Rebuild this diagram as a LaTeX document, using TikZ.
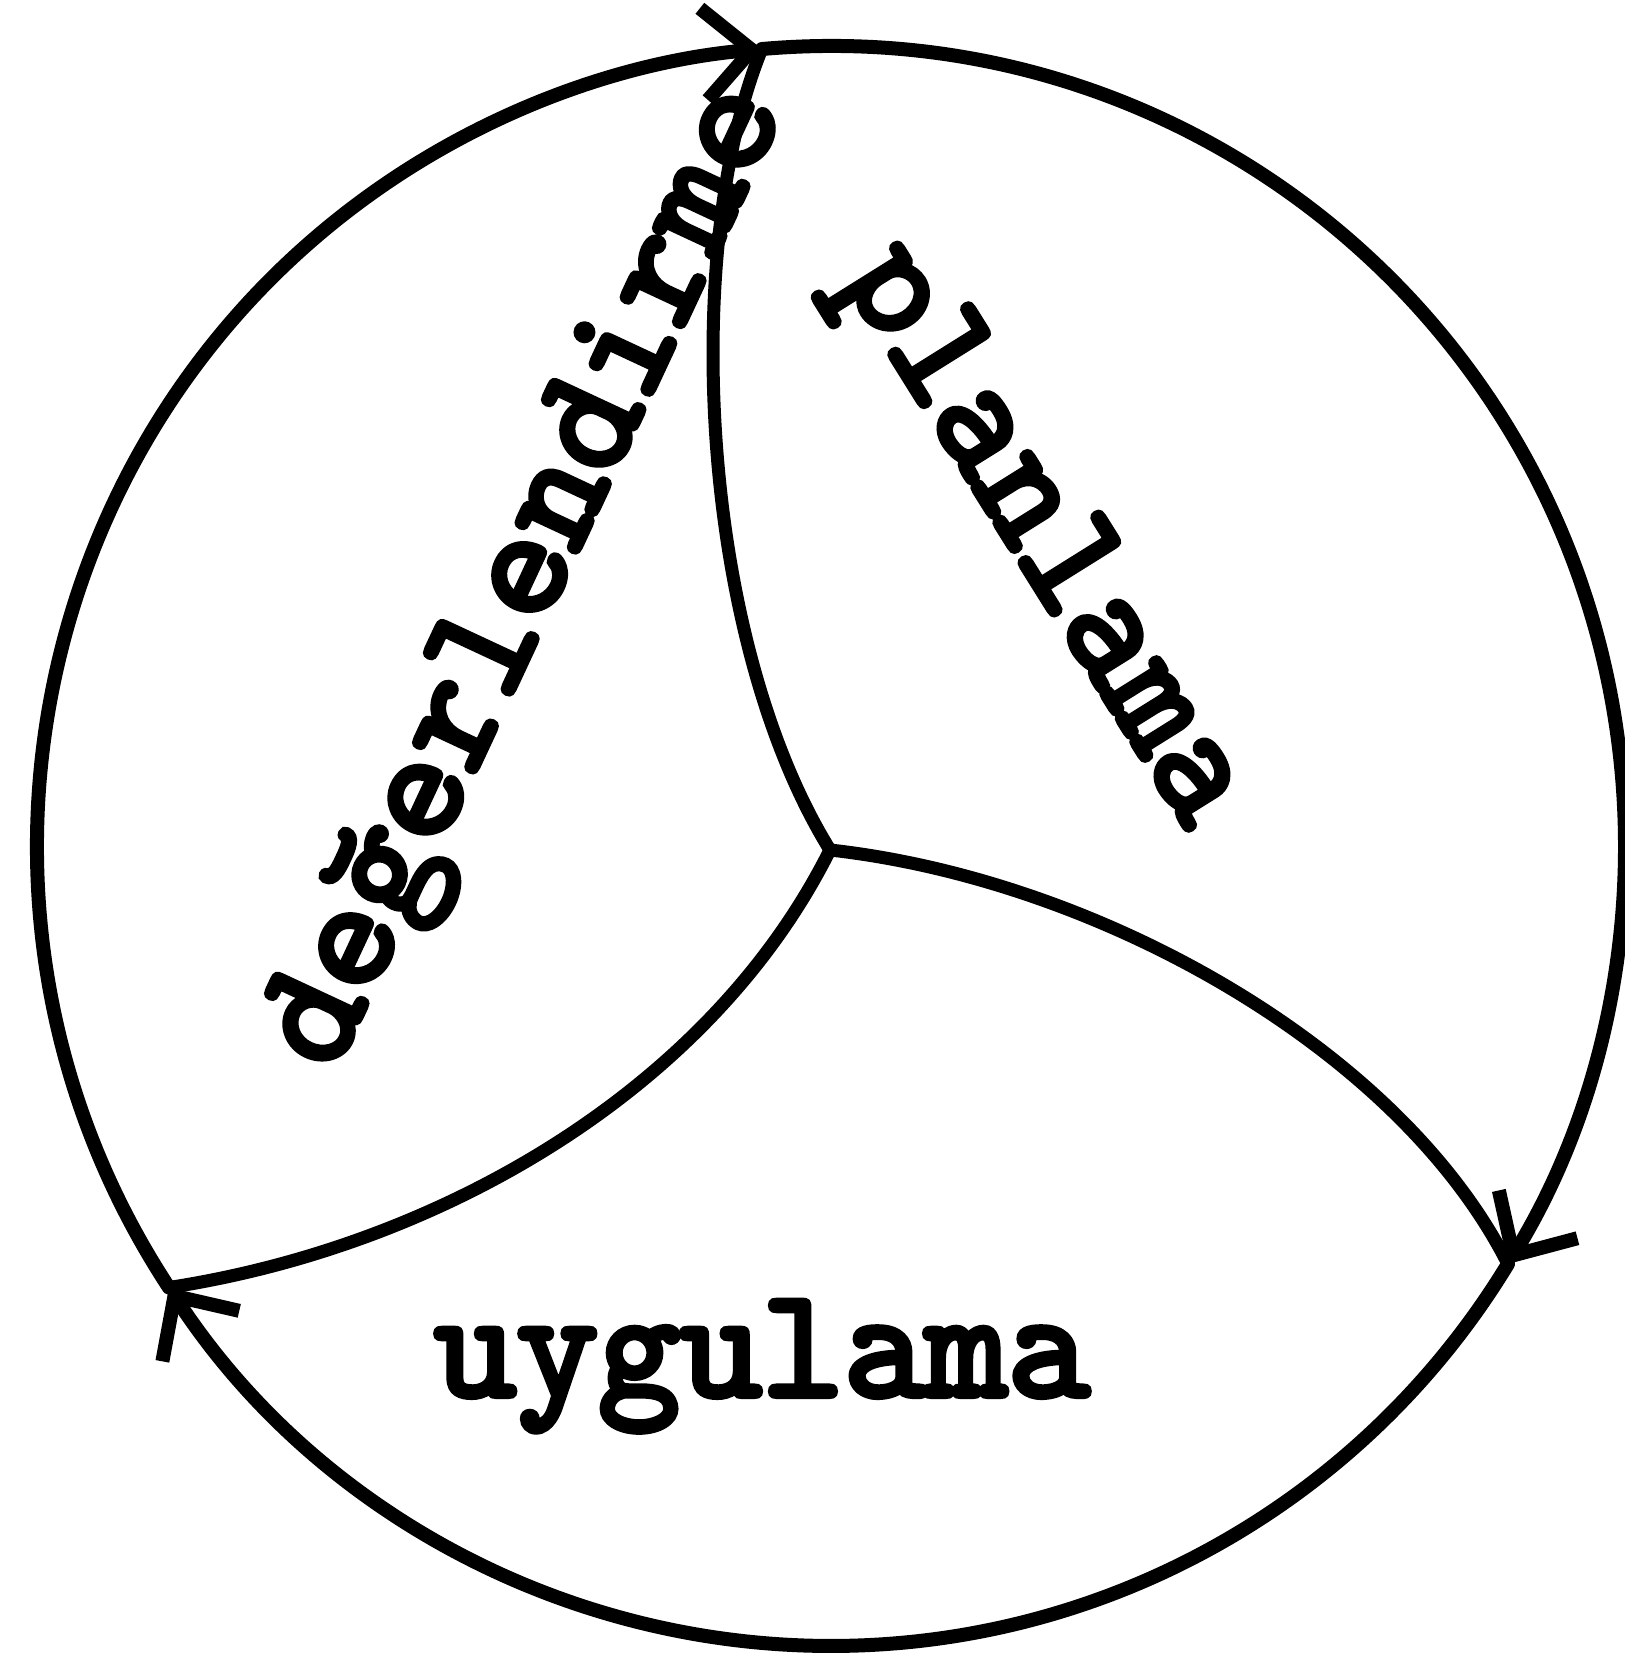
\documentclass[tikz,border=0pt]{standalone}
\usepackage{fontspec}
\newfontfamily\tw{lmmono10-regular.otf}[FakeBold=4]
\usetikzlibrary{arrows.meta,calc}
\begin{document}
\begin{tikzpicture}[x=1pt,y=1pt,
  ring/.style={line width=14pt,line cap=round,-{Straight Barb[length=48pt,width=92pt]}},
  link/.style={line width=13pt,line cap=round},
  lbl/.style={font=\fontsize{156}{160}\selectfont\tw,inner sep=0pt}]
\useasboundingbox (0,0) rectangle (1625,1666);
\coordinate (O) at (831,820);
\coordinate (J) at (830,816);
\coordinate (T) at ($(O)+(95:794 and 800)$);
\coordinate (R) at ($(O)+(-31.5:794 and 800)$);
\coordinate (L) at ($(O)+(213.5:794 and 800)$);
% circle arcs, clockwise, with arrow tips at the junctions
\draw[ring] (T) arc[start angle=95,end angle=-31.5,x radius=794,y radius=800];
\draw[ring] (R) arc[start angle=-31.5,end angle=-146.5,x radius=794,y radius=800];
\draw[ring] (L) arc[start angle=213.5,end angle=95,x radius=794,y radius=800];
% inner curves
\draw[link] (J) .. controls (700,1026) and (680,1416) .. (T);
\draw[link] (J) .. controls (1100,786) and (1400,616) .. (R);
\draw[link] (J) .. controls (710,576) and (440,420) .. (L);
% labels
\node[lbl,rotate=65] (d) at (532,1087) {değerlendirme};
\node[lbl,rotate=-58] (p) at (1040,1128) {planlama};
\node[lbl,anchor=base] (u) at (762,270) {uygulama};
\end{tikzpicture}
\end{document}
